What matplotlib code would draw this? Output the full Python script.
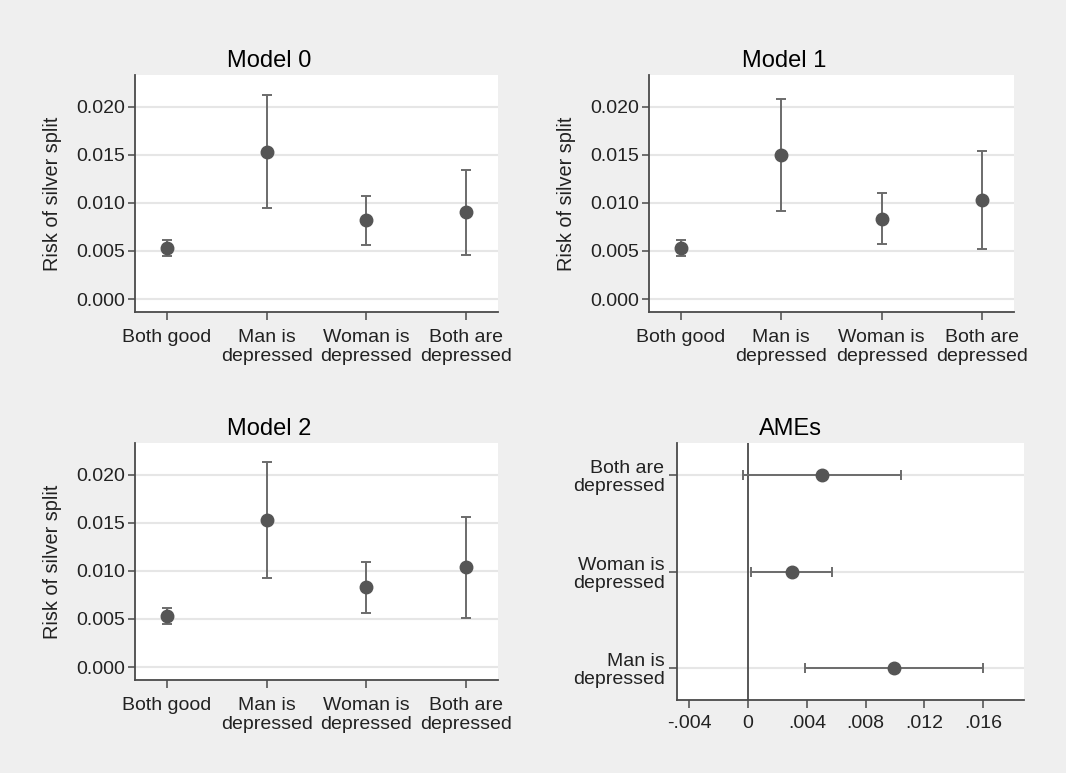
import numpy as np
import matplotlib
matplotlib.use("Agg")
import matplotlib.pyplot as plt
from matplotlib.ticker import FuncFormatter

plt.rcParams["font.family"] = ["Liberation Sans", "DejaVu Sans"]

# categories for the predicted-risk panels
categories = ["Both good", "Man is\ndepressed", "Woman is\ndepressed", "Both are\ndepressed"]

# predicted risk, lower and upper bounds
m0_est = [0.00534, 0.01534, 0.00820, 0.00903]
m0_lo = [0.00451, 0.00945, 0.00566, 0.00458]
m0_hi = [0.00615, 0.02122, 0.01070, 0.01344]

m1_est = [0.00528, 0.01497, 0.00833, 0.01028]
m1_lo = [0.00451, 0.00920, 0.00573, 0.00521]
m1_hi = [0.00615, 0.02080, 0.01100, 0.01542]

m2_est = [0.00527, 0.01528, 0.00828, 0.01036]
m2_lo = [0.00447, 0.00928, 0.00565, 0.00506]
m2_hi = [0.00610, 0.02131, 0.01088, 0.01562]

# average marginal effects (bottom to top)
ame_labels = ["Man is\ndepressed", "Woman is\ndepressed", "Both are\ndepressed"]
ame_est = [0.00995, 0.00297, 0.00505]
ame_lo = [0.00390, 0.00020, -0.00032]
ame_hi = [0.01600, 0.00574, 0.01040]

W, H = 1066, 773
fig = plt.figure(figsize=(W / 100, H / 100), dpi=100, facecolor="#efefef")

def px_axes(left, top, right, bottom):
    return fig.add_axes([left / W, (H - bottom) / H, (right - left) / W, (bottom - top) / H])

dot_col = "#555555"
bar_col = "#6b6b6b"
axis_col = "#4a4a4a"
grid_col = "#e6e6e6"
text_col = "#222222"

def style(ax):
    ax.set_facecolor("white")
    for s in ["top", "right"]:
        ax.spines[s].set_visible(False)
    for s in ["left", "bottom"]:
        ax.spines[s].set_color(axis_col)
        ax.spines[s].set_linewidth(1.3)
    ax.tick_params(width=1.1, color=axis_col, labelsize=14, labelcolor=text_col)
    ax.tick_params(axis="y", length=5, pad=2)
    ax.tick_params(axis="x", length=6, pad=6.5)
    ax.set_axisbelow(True)

def risk_panel(ax, title, est, lo, hi, tx):
    style(ax)
    x = np.arange(1, len(categories) + 1)
    est = np.array(est)
    yerr = [est - np.array(lo), np.array(hi) - est]
    ax.errorbar(x, est, yerr=yerr, fmt="o", color=dot_col, ecolor=bar_col,
                elinewidth=1.4, capsize=3.6, capthick=1.4, markersize=9)
    ax.set_xlim(0.68, 4.32)
    ax.set_ylim(-0.00135, 0.0233)
    ax.set_yticks([0, 0.005, 0.010, 0.015, 0.020])
    ax.yaxis.set_major_formatter(FuncFormatter(lambda v, p: f"{v:.3f}"))
    ax.set_xticks(x)
    ax.set_xticklabels(categories, linespacing=1.1)
    ax.grid(axis="y", color=grid_col, linewidth=1.5)
    ax.set_ylabel("Risk of silver split", fontsize=14.3, color=text_col)
    ax.yaxis.set_label_coords(-0.2, 0.5)
    ax.set_title(title, fontsize=17, x=tx, pad=6)

ax0 = px_axes(135, 75, 498, 312)
risk_panel(ax0, "Model 0", m0_est, m0_lo, m0_hi, 0.369)
ax1 = px_axes(649, 75, 1014, 312)
risk_panel(ax1, "Model 1", m1_est, m1_lo, m1_hi, 0.37)
ax2 = px_axes(135, 443, 498, 680)
risk_panel(ax2, "Model 2", m2_est, m2_lo, m2_hi, 0.369)

# AMEs panel
ax3 = px_axes(677, 443, 1024, 700)
style(ax3)
ax3.tick_params(axis="y", length=6, pad=3)
ax3.tick_params(axis="x", pad=5)
y = np.arange(1, len(ame_labels) + 1)
ame_est_a = np.array(ame_est)
xerr = [ame_est_a - np.array(ame_lo), np.array(ame_hi) - ame_est_a]
ax3.axvline(0, color=axis_col, linewidth=1.3, zorder=1)
ax3.errorbar(ame_est_a, y, xerr=xerr, fmt="o", color=dot_col, ecolor=bar_col,
             elinewidth=1.4, capsize=3.6, capthick=1.4, markersize=9, zorder=3)
ax3.set_ylim(0.67, 3.33)
ax3.set_xlim(-0.00484, 0.01879)
ax3.set_yticks(y)
ax3.set_yticklabels(ame_labels, linespacing=1.1)
ax3.set_xticks([-0.004, 0, 0.004, 0.008, 0.012, 0.016])

def ame_fmt(v, p):
    if abs(v) < 1e-12:
        return "0"
    s = f"{v:.3f}"
    return s.replace("0.", ".")

ax3.xaxis.set_major_formatter(FuncFormatter(ame_fmt))
ax3.grid(axis="y", color=grid_col, linewidth=1.5)
ax3.set_title("AMEs", fontsize=17, x=0.326, pad=6)

fig.savefig("out.png", dpi=100, facecolor=fig.get_facecolor())
